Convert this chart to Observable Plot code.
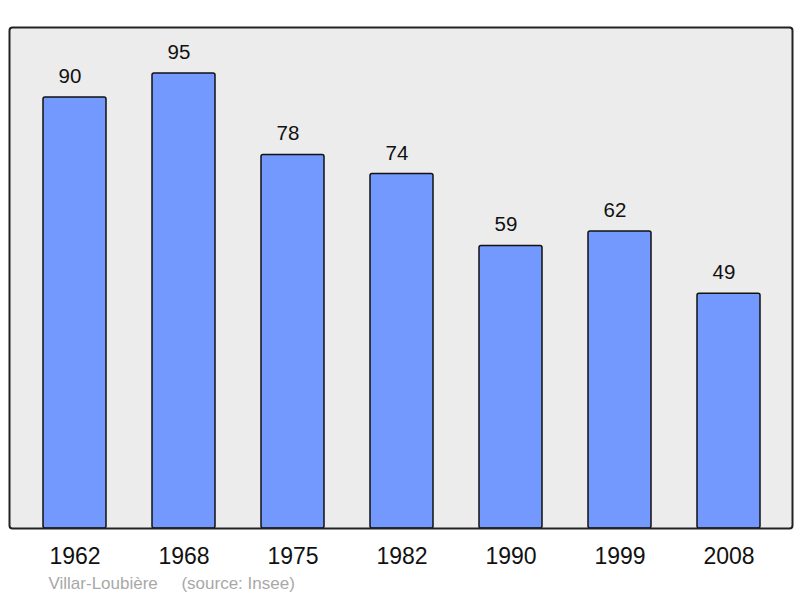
<!DOCTYPE html>
<html>
<head>
<meta charset="utf-8">
<script src="https://cdn.jsdelivr.net/npm/d3@7"></script>
<script src="https://cdn.jsdelivr.net/npm/@observablehq/plot@0.6"></script>
<style>
  html, body { margin: 0; padding: 0; background: #fff; }
  svg { display: block; }
</style>
</head>
<body>
<div id="chart"></div>
<script>
const years = ["1962", "1968", "1975", "1982", "1990", "1999", "2008"];
const population = [90, 95, 78, 74, 59, 62, 49];
const caption = "Villar-Loubière\u00a0\u00a0\u00a0\u00a0 (source: Insee)";

const data = years.map((y, i) => ({year: y, value: population[i]}));

const chart = Plot.plot({
  width: 800,
  height: 598,
  marginTop: 27,
  marginBottom: 70,
  marginLeft: 9,
  marginRight: 8,
  style: {fontFamily: "'Liberation Sans', Arial, sans-serif", background: "#fff"},
  x: {domain: years, range: [10, 793], paddingInner: 0.424, paddingOuter: 0.293, label: null},
  y: {domain: [0, 104.6], axis: null},
  marks: [
    Plot.frame({fill: "#ececec", stroke: "none", rx: 3}),
    Plot.barY(data, {x: "year", y: "value", fill: "#7399ff", stroke: "#111", strokeWidth: 1.5, rx: 2}),
    Plot.text(data, {x: "year", y: "value", text: d => String(d.value), dx: -5, dy: -21, fontSize: 20.5, fill: "#111"}),
    Plot.frame({stroke: "#222", strokeWidth: 2, rx: 3}),
    Plot.axisX({tickSize: 0, tickPadding: 19.5, fontSize: 23, fill: "#111", label: null}),
    Plot.text([caption], {frameAnchor: "bottom-left", textAnchor: "start", dx: 39, dy: 60, fontSize: 17, fill: "#a8a8a8"})
  ]
});
document.getElementById("chart").appendChild(chart);
</script>
</body>
</html>
